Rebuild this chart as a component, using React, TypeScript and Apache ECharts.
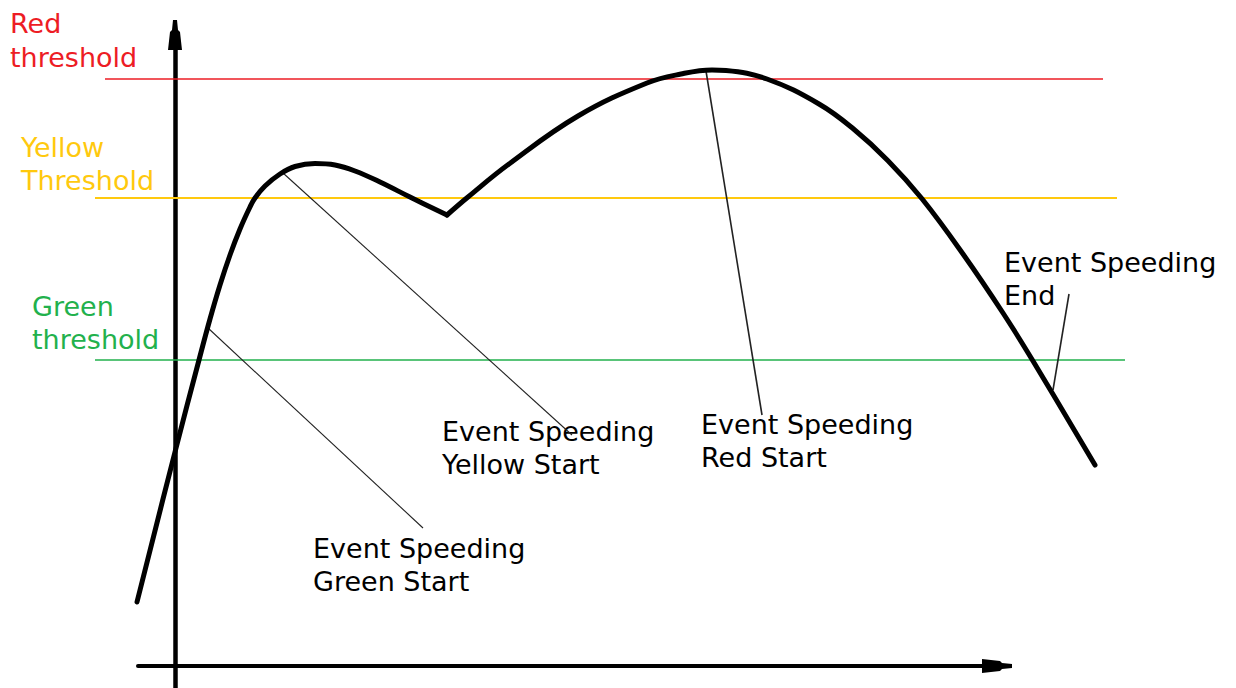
import React, { useEffect, useRef } from "react";
import * as echarts from "echarts";

// ---- data (speed vs. time, arbitrary units) ----
const speedBeforeDip: [number, number][] = [
  [-38, 64], [0, 214], [24, 306], [35, 347], [45, 381], [55, 411], [65, 437],
  [75, 459], [80, 468], [90, 480], [105, 492], [120, 499.5], [140, 502.5],
  [160, 501], [180, 495], [205, 484], [235, 469], [272, 451],
];
const speedAfterDip: [number, number][] = [
  [272, 451], [293, 469], [334, 502], [403, 550], [472, 583], [506, 592], [537, 596],
  [551, 595.5], [592, 587], [644, 562], [678, 537.5], [713, 505.3], [747, 467.2],
  [788, 412], [828, 353], [858, 305], [920, 201],
];

const thresholdNames = ["Red threshold", "Yellow Threshold", "Green threshold"];
const thresholdValues = [587, 468, 306];
const thresholdSpans: [number, number][] = [[-70, 928], [-80, 942], [-80, 950]];

const eventNames = [
  "Event Speeding Green Start",
  "Event Speeding Yellow Start",
  "Event Speeding Red Start",
  "Event Speeding End",
];
// leader line: point on the curve -> point near its label
const eventLeaders: [number, number][][] = [
  [[33, 338], [248, 138]],
  [[108, 493], [397, 231]],
  [[531, 595], [587, 251]],
  [[894, 372], [878, 276]],
];

// ---- styles / layout ----
const RED = "#ED1C24";
const YELLOW = "#FFC90E";
const GREEN = "#22B14C";
const thresholdColors = [RED, YELLOW, GREEN];
const thresholdWidths = [1.5, 2, 1.5];
const FONT = '"DejaVu Sans", Verdana, sans-serif';
const ARROW = "path://M5,0 L9,0 L10,10 L12,12 L14,30 L0,30 L2,12 L4,10 Z";

const labelLayout = [
  { lines: ["Red", "threshold"], x: 10, y: 23.5, color: RED },
  { lines: ["Yellow", "Threshold"], x: 21, y: 147, color: YELLOW },
  { lines: ["Green", "threshold"], x: 32, y: 306, color: GREEN },
  { lines: ["Event Speeding", "Green Start"], x: 313, y: 548, color: "#000" },
  { lines: ["Event Speeding", "Yellow Start"], x: 442, y: 431, color: "#000" },
  { lines: ["Event Speeding", "Red Start"], x: 701, y: 424, color: "#000" },
  { lines: ["Event Speeding", "End"], x: 1004, y: 262, color: "#000" },
];
const LINE_GAP = 33.5;

export default function App() {
  const ref = useRef<HTMLDivElement>(null);

  useEffect(() => {
    const chart = echarts.init(ref.current!, null, { renderer: "svg" });

    const graphic: any[] = [];
    labelLayout.forEach((l) => {
      l.lines.forEach((t, i) => {
        graphic.push({
          type: "text",
          x: l.x,
          y: l.y + i * LINE_GAP,
          silent: true,
          style: {
            text: t,
            fill: l.color,
            fontSize: 27,
            fontFamily: FONT,
            verticalAlign: "middle",
            align: "left",
          },
        });
      });
    });

    const thresholdSeries = thresholdNames.map((name, i) => ({
      name,
      type: "line",
      xAxisIndex: 1,
      yAxisIndex: 1,
      symbol: "none",
      silent: true,
      z: 2,
      data: [
        [thresholdSpans[i][0], thresholdValues[i]],
        [thresholdSpans[i][1], thresholdValues[i]],
      ],
      lineStyle: { color: thresholdColors[i], width: thresholdWidths[i] },
    }));

    const leaderSeries = eventNames.map((name, i) => ({
      name,
      type: "line",
      xAxisIndex: 1,
      yAxisIndex: 1,
      symbol: "none",
      silent: true,
      z: 4,
      data: eventLeaders[i],
      lineStyle: { color: "#222", width: i >= 2 ? 1.6 : 1.1 },
    }));

    const curveStyle = { color: "#000", width: 5, cap: "round", join: "round" };

    const axisCommon = {
      axisTick: { show: false },
      axisLabel: { show: false },
      splitLine: { show: false },
    };

    chart.setOption({
      animation: false,
      backgroundColor: "#fff",
      grid: [
        { left: 138, right: 239, top: 35, bottom: 0, containLabel: false, outerBoundsMode: "none" },
        { left: 0, right: 0, top: 0, bottom: 0, containLabel: false, outerBoundsMode: "none" },
      ],
      xAxis: [
        {
          type: "value",
          gridIndex: 0,
          min: -37,
          max: 822,
          axisLine: {
            show: true,
            onZero: true,
            symbol: ["none", ARROW],
            symbolSize: [14, 30],
            lineStyle: { color: "#000", width: 4 },
          },
          ...axisCommon,
        },
        { type: "value", gridIndex: 1, min: -175, max: 1061, show: false },
      ],
      yAxis: [
        {
          type: "value",
          gridIndex: 0,
          min: -22,
          max: 631,
          axisLine: {
            show: true,
            onZero: true,
            symbol: ["none", ARROW],
            symbolSize: [14, 30],
            lineStyle: { color: "#000", width: 4.5 },
          },
          ...axisCommon,
        },
        { type: "value", gridIndex: 1, min: -22, max: 666, show: false },
      ],
      series: [
        ...thresholdSeries,
        ...leaderSeries,
        {
          name: "Speed (rise)",
          type: "line",
          xAxisIndex: 1,
          yAxisIndex: 1,
          symbol: "none",
          smooth: 0.4,
          z: 5,
          data: speedBeforeDip,
          lineStyle: curveStyle,
        },
        {
          name: "Speed (peak)",
          type: "line",
          xAxisIndex: 1,
          yAxisIndex: 1,
          symbol: "none",
          smooth: 0.4,
          z: 5,
          data: speedAfterDip,
          lineStyle: curveStyle,
        },
      ],
      graphic,
    });

    return () => chart.dispose();
  }, []);

  return (
    <div
      ref={ref}
      style={{ position: "fixed", left: 0, top: 0, width: 1236, height: 688, background: "#fff" }}
    />
  );
}
